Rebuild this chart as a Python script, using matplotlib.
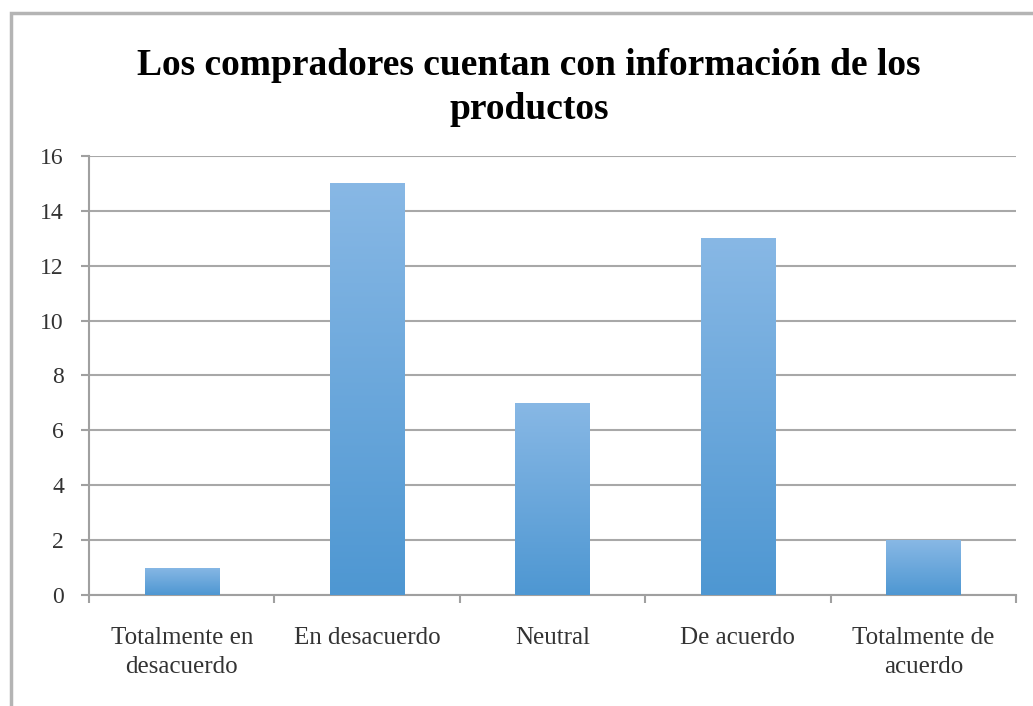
import numpy as np
import matplotlib.pyplot as plt
from matplotlib.colors import LinearSegmentedColormap
from matplotlib.patches import Rectangle

# Data
categories = ["Totalmente en\ndesacuerdo", "En desacuerdo", "Neutral",
              "De acuerdo", "Totalmente de\nacuerdo"]
values = [1, 15, 7, 13, 2]
yticks = [0, 2, 4, 6, 8, 10, 12, 14, 16]
title = "Los compradores cuentan con información de los\nproductos"

plt.rcParams['font.family'] = ['Liberation Serif', 'DejaVu Serif']

fig = plt.figure(figsize=(10.33, 7.06), dpi=100)
ax = fig.add_axes([89 / 1033, 111 / 706, 927 / 1033, 439 / 706])

# outer chart border (only top and left visible in the reference)
fig.patches.append(Rectangle((11 / 1033, -0.05), 1.1, (706 - 13) / 706 + 0.05,
                             transform=fig.transFigure, fill=False,
                             edgecolor='#B4B4B4', linewidth=2.5))

x = np.arange(len(categories))
bars = ax.bar(x, values, width=0.4, color='#6AAAE0', zorder=3)

# vertical gradient fill on each bar
cmap = LinearSegmentedColormap.from_list('bar', ['#4E97D2', '#88B8E5'])
grad = np.linspace(0, 1, 256).reshape(-1, 1)
for b in bars:
    x0, w, h = b.get_x(), b.get_width(), b.get_height()
    im = ax.imshow(grad, extent=[x0, x0 + w, 0, h], origin='lower',
                   cmap=cmap, aspect='auto', zorder=3)
    im.set_clip_path(b)

ax.set_xlim(-0.5, len(categories) - 0.5)
ax.set_ylim(0, 16)
ax.set_yticks(yticks)
ax.set_yticklabels([str(t) for t in yticks], fontsize=17, color='#333333')
ax.set_xticks(x)
ax.set_xticklabels(categories, fontsize=18, color='#333333', linespacing=1.4)
ax.set_xticks(np.arange(-0.5, len(categories), 1), minor=True)
ax.tick_params(axis='x', which='major', length=0, pad=23)
ax.tick_params(axis='x', which='minor', length=6, color='#A0A0A0', width=1.5)
ax.tick_params(axis='y', length=6, color='#A0A0A0', width=1.5, pad=12)

ax.grid(axis='y', color='#A8A8A8', linewidth=1.5, zorder=0)
ax.set_axisbelow(True)
for s in ['top', 'right']:
    ax.spines[s].set_visible(False)
for s in ['left', 'bottom']:
    ax.spines[s].set_color('#A0A0A0')
    ax.spines[s].set_linewidth(1.5)

fig.text(0.512, 0.876, title, ha='center', va='center', fontsize=27,
         fontweight='bold', linespacing=1.32)

fig.savefig('out.png', dpi=100)
